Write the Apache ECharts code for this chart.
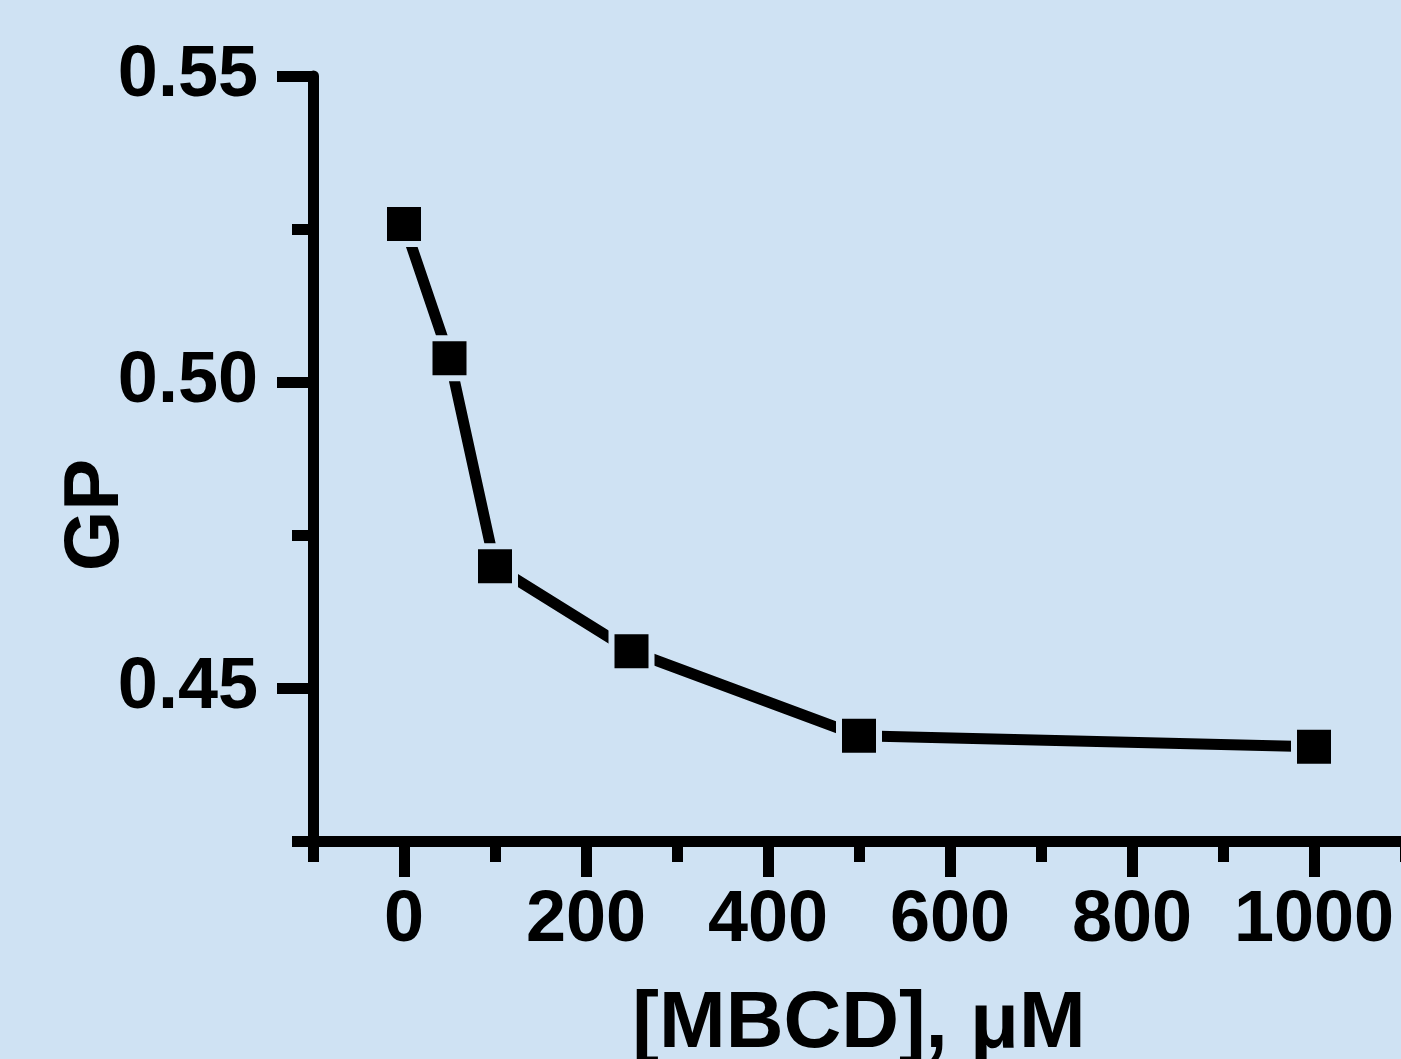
<!DOCTYPE html>
<html>
<head>
<meta charset="utf-8">
<script src="https://cdn.jsdelivr.net/npm/echarts@6/dist/echarts.min.js"></script>
<style>
  html, body { margin: 0; padding: 0; background: #cfe2f3; }
  #gp-chart { width: 1401px; height: 1059px; }
</style>
</head>
<body>
<div id="gp-chart"></div>
<script>
// MBCD concentration (uM) and measured GP
const mbcd = [0, 50, 100, 250, 500, 1000];
const gp = [0.5258, 0.5039, 0.4699, 0.456, 0.4422, 0.4404];

// tick labels
const xMajorTicks = [0, 200, 400, 600, 800, 1000];
const yMajorTicks = [0.45, 0.5, 0.55];

const bg = "#cfe2f3";
const font = "Liberation Sans, Arial, Helvetica, sans-serif";

const chart = echarts.init(document.getElementById("gp-chart"));

const lineStyle = { color: "#000", width: 11 };
const labelFont = { fontFamily: font, fontWeight: "bold", fontSize: 72, color: "#000" };

chart.setOption({
  backgroundColor: bg,
  animation: false,
  grid: {
    left: 313, top: 76, right: -4, bottom: 218,
    containLabel: false,
    outerBoundsMode: "none",
  },
  xAxis: [
    {
      // minor ticks every 100
      type: "value",
      min: -100,
      max: 1100,
      interval: 100,
      position: "bottom",
      axisLine: { show: true, onZero: false, lineStyle: lineStyle },
      axisTick: { show: true, length: 21, lineStyle: lineStyle },
      axisLabel: { show: false },
      splitLine: { show: false },
      name: "[MBCD], \u03bcM",
      nameLocation: "middle",
      nameGap: 144,
      nameTextStyle: Object.assign({}, labelFont, { fontSize: 80 }),
    },
    {
      // major ticks + labels
      type: "value",
      min: -100,
      max: 1100,
      position: "bottom",
      axisLine: { show: false, onZero: false },
      axisTick: { show: true, length: 36, customValues: xMajorTicks, lineStyle: lineStyle },
      axisLabel: Object.assign({
        show: true,
        customValues: xMajorTicks,
        margin: 44,
        formatter: (v) => String(v),
      }, labelFont),
      splitLine: { show: false },
    },
  ],
  yAxis: [
    {
      type: "value",
      min: 0.425,
      max: 0.55,
      interval: 0.025,
      position: "left",
      axisLine: { show: true, onZero: false, lineStyle: lineStyle },
      axisTick: { show: true, length: 21, lineStyle: lineStyle },
      axisLabel: { show: false },
      splitLine: { show: false },
    },
    {
      type: "value",
      min: 0.425,
      max: 0.55,
      position: "left",
      axisLine: { show: false, onZero: false },
      axisTick: { show: true, length: 36, customValues: yMajorTicks, lineStyle: lineStyle },
      axisLabel: Object.assign({
        show: true,
        customValues: yMajorTicks,
        margin: 55,
        formatter: (v) => v.toFixed(2),
      }, labelFont),
      splitLine: { show: false },
    },
  ],
  graphic: [
    {
      type: "text",
      x: 96,
      y: 515,
      rotation: Math.PI / 2,
      style: {
        text: "GP",
        align: "center",
        verticalAlign: "middle",
        fill: "#000",
        font: "bold 78px " + font,
      },
    },
  ],
  series: [
    {
      type: "line",
      xAxisIndex: 0,
      yAxisIndex: 0,
      data: mbcd.map((x, i) => [x, gp[i]]),
      symbol: "rect",
      symbolSize: 40,
      lineStyle: { color: "#000", width: 11 },
      itemStyle: { color: "#000", borderColor: bg, borderWidth: 6 },
    },
  ],
});
</script>
</body>
</html>
